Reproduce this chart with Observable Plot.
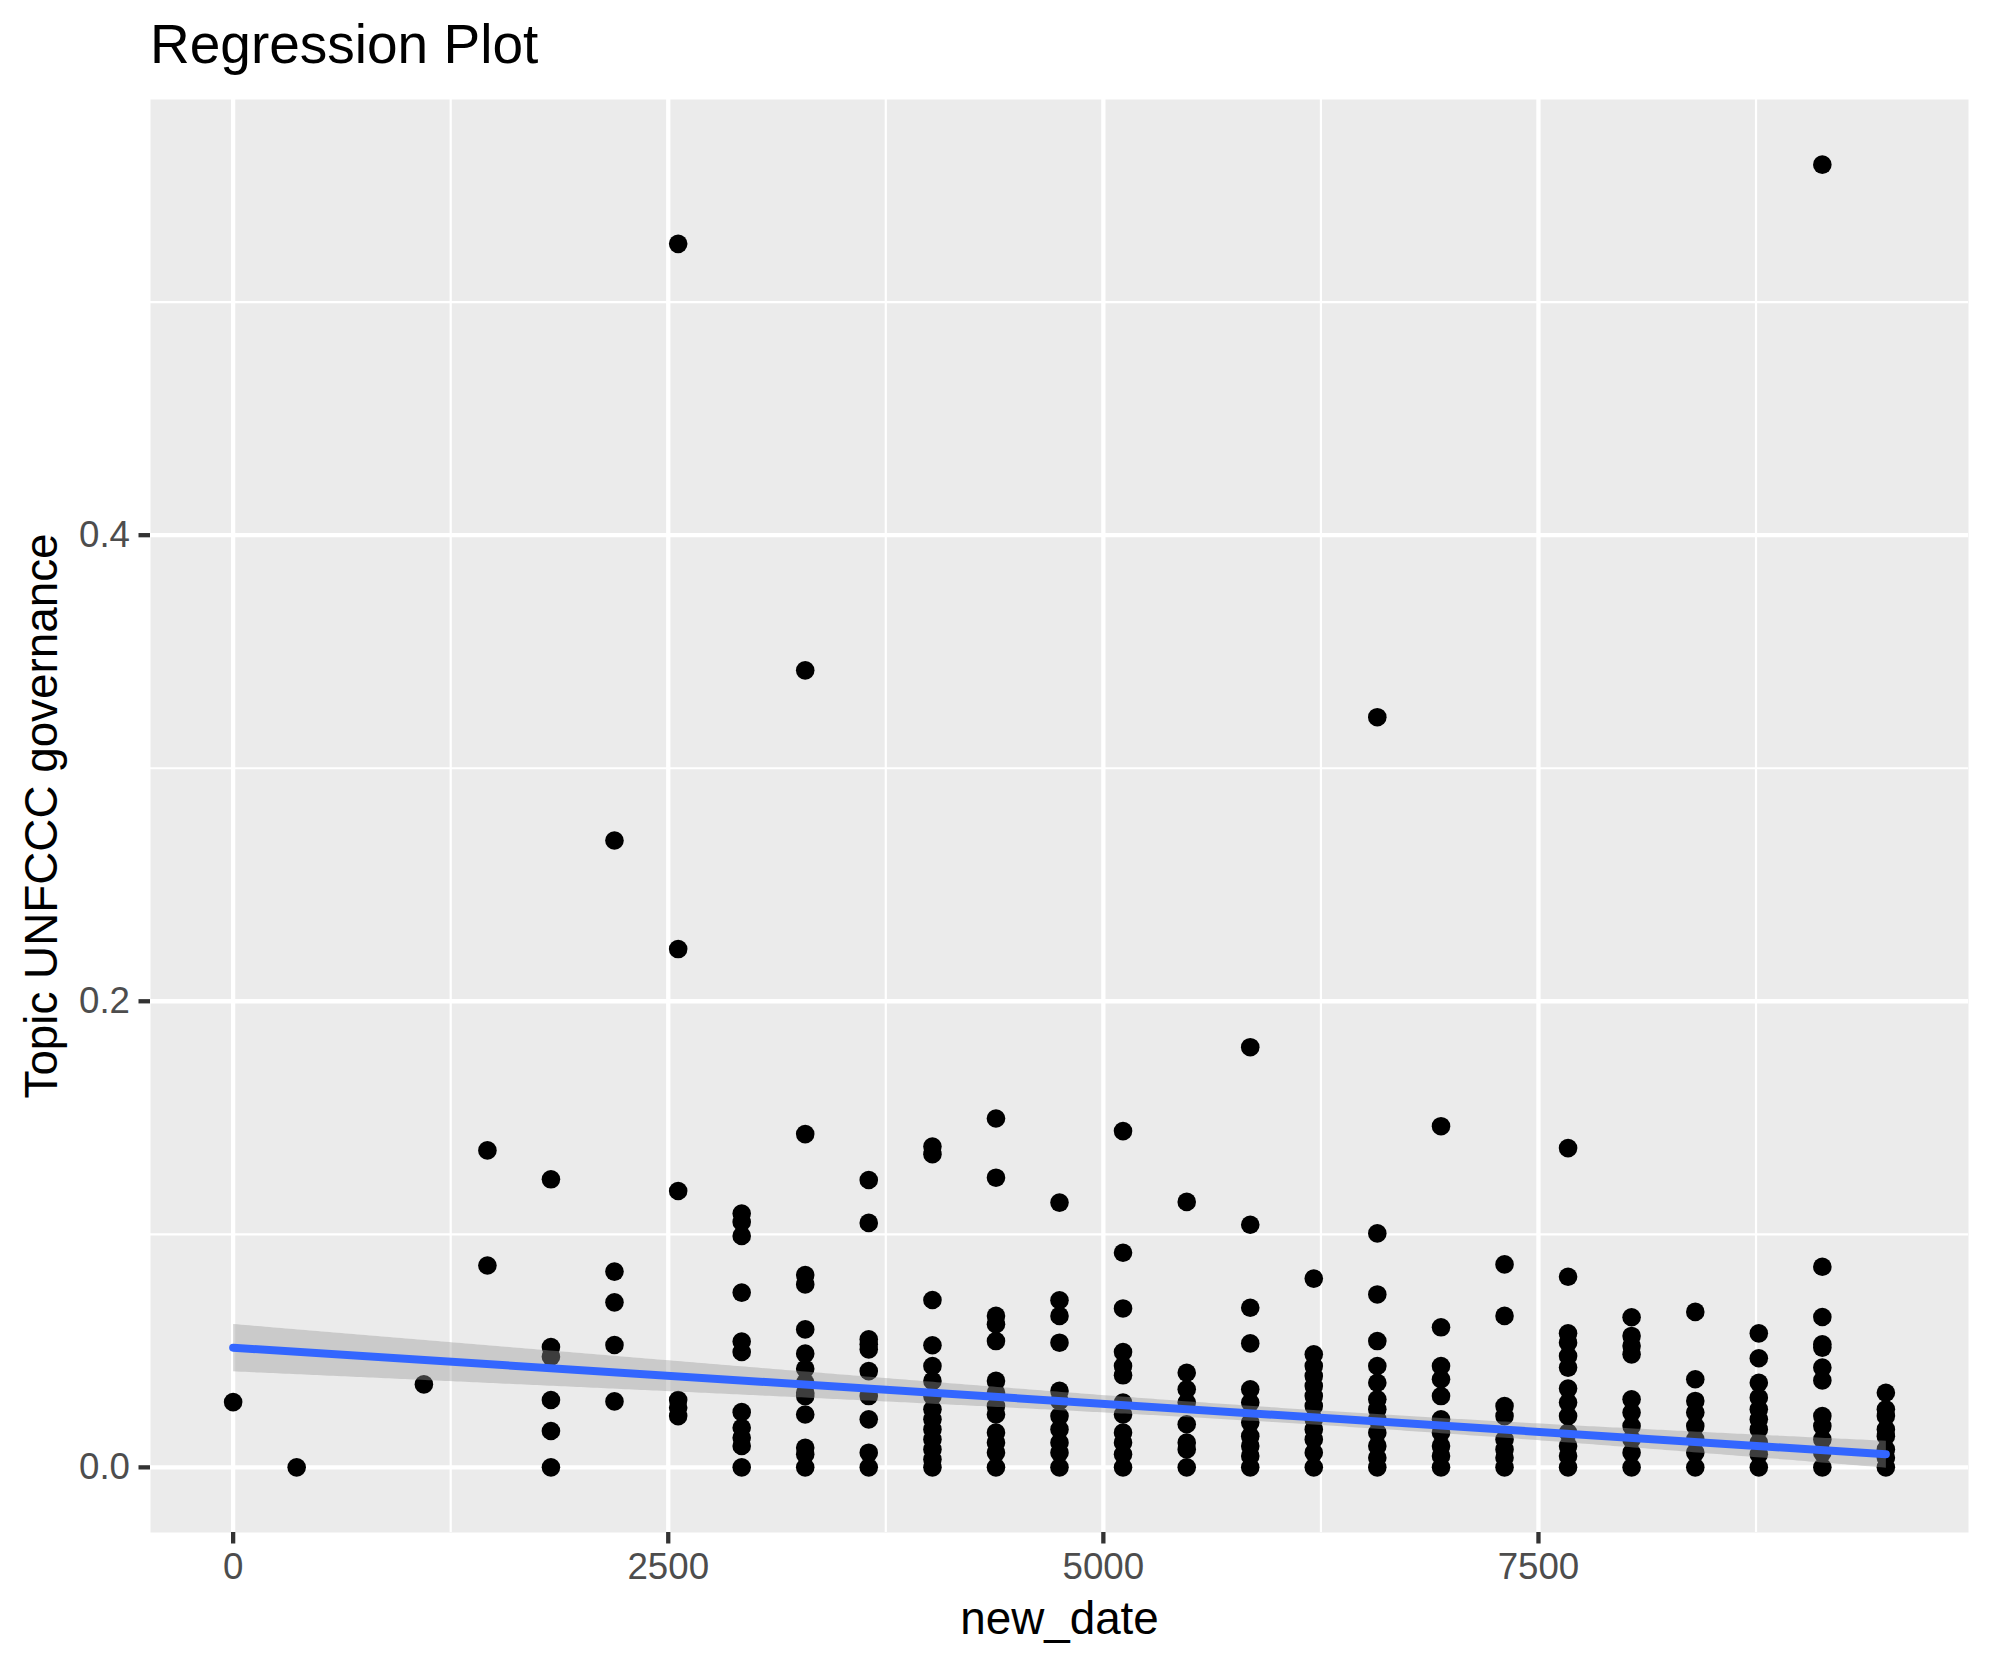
<!DOCTYPE html>
<html><head><meta charset="utf-8">
<script src="https://cdn.jsdelivr.net/npm/d3@7"></script>
<script src="https://cdn.jsdelivr.net/npm/@observablehq/plot@0.6"></script>
<style>
body{margin:0;background:#fff;font-family:"Liberation Sans",Arial,Helvetica,sans-serif;}
#title{height:99px;box-sizing:border-box;padding-left:150px;padding-top:17px;font-size:55px;line-height:1;color:#000;white-space:nowrap;}
#chart svg{display:block;}
</style></head><body>
<div id="title"></div>
<div id="chart"></div>
<script>
const titleText = "Regression Plot";
const xLabel = "new_date";
const yLabel = "Topic UNFCCC governance";

// x position (days) of each column of observations
const columnDays = [0, 365, 1096, 1461, 1826, 2191, 2557, 2922, 3287, 3652, 4018, 4383, 4748,
  5113, 5479, 5844, 6209, 6574, 6940, 7305, 7670, 8035, 8401, 8766, 9131, 9496];

// distinct y values seen in each column
const columnValues = [
  [0.028],
  [0],
  [0.0356],
  [0.136, 0.0866],
  [0.1236, 0.0516, 0.0475, 0.0289, 0.0156, 0],
  [0.269, 0.084, 0.0708, 0.0525, 0.0283],
  [0.525, 0.2224, 0.1186, 0.0289, 0.0256, 0.022],
  [0.1089, 0.1053, 0.0993, 0.075, 0.054, 0.0495, 0.0237, 0.017, 0.0127, 0.0092, 0],
  [0.342, 0.143, 0.0825, 0.0785, 0.0592, 0.0488, 0.0423, 0.0363, 0.032, 0.0306, 0.0227, 0.0084, 0.0056, 0],
  [0.1233, 0.1049, 0.0549, 0.0528, 0.0506, 0.0413, 0.0306, 0.0206, 0.0063, 0],
  [0.1377, 0.1344, 0.0718, 0.0524, 0.0435, 0.0371, 0.0306, 0.0249, 0.0206, 0.0163, 0.012, 0.0077, 0.0034, 0],
  [0.1497, 0.1243, 0.065, 0.0614, 0.0542, 0.0371, 0.032, 0.0263, 0.0227, 0.0149, 0.0106, 0.0063, 0],
  [0.1136, 0.0717, 0.065, 0.0535, 0.0328, 0.0285, 0.022, 0.0163, 0.0106, 0.0063, 0],
  [0.1443, 0.0921, 0.0682, 0.0495, 0.0435, 0.0395, 0.0278, 0.0227, 0.0149, 0.0106, 0.0056, 0],
  [0.1139, 0.0406, 0.0335, 0.0278, 0.0185, 0.0106, 0.0077, 0],
  [0.1803, 0.1041, 0.0685, 0.0532, 0.0335, 0.0278, 0.0192, 0.0134, 0.0092, 0.0049, 0],
  [0.081, 0.0485, 0.0435, 0.0392, 0.0349, 0.0306, 0.0263, 0.0206, 0.0163, 0.012, 0.0063, 0],
  [0.3219, 0.1004, 0.0742, 0.0542, 0.0435, 0.0363, 0.0292, 0.0249, 0.0206, 0.0149, 0.0092, 0.0041, 0],
  [0.1464, 0.0601, 0.0435, 0.0378, 0.0306, 0.0206, 0.0149, 0.0092, 0.0049, 0],
  [0.0871, 0.065, 0.0263, 0.022, 0.012, 0.0077, 0.0041, 0],
  [0.137, 0.0818, 0.0575, 0.0535, 0.0478, 0.0428, 0.0338, 0.0278, 0.022, 0.0149, 0.0092, 0.0049, 0],
  [0.0644, 0.0564, 0.0521, 0.0485, 0.0292, 0.0235, 0.0177, 0.012, 0.0063, 0],
  [0.0667, 0.0378, 0.0285, 0.0235, 0.0177, 0.012, 0.0063, 0],
  [0.0575, 0.0468, 0.0363, 0.0299, 0.0249, 0.0206, 0.0163, 0.0106, 0.0056, 0],
  [0.559, 0.0861, 0.0645, 0.0528, 0.0514, 0.0428, 0.0373, 0.022, 0.0177, 0.012, 0.0063, 0],
  [0.032, 0.0249, 0.022, 0.0163, 0.0134, 0.0077, 0.0041, 0]
];

// estimated number of coincident (overplotted) observations at each value above
const stackCounts = [
  [1],
  [1],
  [1],
  [1, 1],
  [1, 1, 1, 1, 1, 1],
  [1, 1, 1, 1, 1],
  [1, 1, 1, 1, 1, 1],
  [1, 1, 1, 1, 1, 1, 4, 3, 3, 3, 2],
  [1, 1, 1, 1, 1, 1, 1, 1, 1, 3, 3, 3, 3, 3],
  [1, 1, 1, 1, 1, 1, 3, 4, 3, 4],
  [1, 1, 1, 1, 1, 1, 3, 4, 4, 4, 4, 4, 4, 6],
  [1, 1, 1, 1, 1, 1, 2, 3, 4, 5, 5, 5, 8],
  [1, 1, 1, 1, 2, 3, 4, 5, 5, 5, 8],
  [1, 1, 1, 1, 1, 1, 4, 4, 5, 5, 5, 8],
  [1, 1, 1, 3, 6, 6, 6, 9],
  [1, 1, 1, 1, 1, 3, 5, 5, 5, 5, 8],
  [1, 1, 1, 1, 1, 2, 2, 3, 5, 6, 7, 12],
  [1, 1, 1, 1, 1, 1, 2, 2, 3, 6, 6, 7, 11],
  [1, 1, 1, 1, 2, 4, 5, 6, 7, 12],
  [1, 1, 1, 4, 5, 6, 6, 9],
  [1, 1, 1, 1, 1, 1, 1, 1, 3, 5, 7, 7, 13],
  [1, 1, 1, 1, 1, 2, 4, 6, 8, 15],
  [1, 1, 1, 2, 3, 5, 9, 16],
  [1, 1, 1, 1, 1, 2, 3, 5, 8, 17],
  [1, 1, 1, 1, 1, 1, 1, 2, 2, 4, 8, 19],
  [1, 1, 1, 1, 3, 6, 7, 18]
];

const xTicks = [0, 2500, 5000, 7500];
const xTickLabels = ["0", "2500", "5000", "7500"];
const xMinor = [1250, 3750, 6250, 8750];
const yTicks = [0, 0.2, 0.4];
const yTickLabels = ["0.0", "0.2", "0.4"];
const yMinor = [0.1, 0.3, 0.5];

document.getElementById("title").textContent = titleText;

const points = columnDays.flatMap((d, i) => columnValues[i].map((v, j) => ({new_date: d, value: v, count: stackCounts[i][j]})));
const observations = points.flatMap(p => Array.from({length: p.count}, () => ({new_date: p.new_date, value: p.value})));

// ggplot-style 5% expansion of the data range
const xExt = d3.extent(points, d => d.new_date);
const yExt = d3.extent(points, d => d.value);
const xPad = (xExt[1] - xExt[0]) * 0.05;
const yPad = (yExt[1] - yExt[0]) * 0.05;

const font = "Liberation Sans, Arial, Helvetica, sans-serif";

const plot = Plot.plot({
  width: 1990,
  height: 1566,
  marginTop: 0,
  marginBottom: 133,
  marginLeft: 150,
  marginRight: 22,
  style: {fontFamily: font, background: "#ffffff", overflow: "visible"},
  x: {domain: [xExt[0] - xPad, xExt[1] + xPad], axis: null},
  y: {domain: [yExt[0] - yPad, yExt[1] + yPad], axis: null},
  marks: [
    Plot.frame({fill: "#EBEBEB", stroke: null}),
    Plot.gridX(xMinor, {stroke: "#ffffff", strokeOpacity: 1, strokeWidth: 2.2}),
    Plot.gridY(yMinor, {stroke: "#ffffff", strokeOpacity: 1, strokeWidth: 2.2}),
    Plot.gridX(xTicks, {stroke: "#ffffff", strokeOpacity: 1, strokeWidth: 4.3}),
    Plot.gridY(yTicks, {stroke: "#ffffff", strokeOpacity: 1, strokeWidth: 4.3}),
    Plot.dot(points, {x: "new_date", y: "value", r: 9.3, fill: "#000000", stroke: null}),
    Plot.linearRegressionY(observations, {x: "new_date", y: "value", stroke: "#3366FF", strokeWidth: 8,
      fill: "#999999", fillOpacity: 0.4, ci: 0.95}),
    Plot.axisX(xTicks, {tickSize: 11.5, tickPadding: 9, stroke: "#333333", strokeWidth: 4.3,
      fill: "#4D4D4D", fontSize: 36.7, tickFormat: d => xTickLabels[xTicks.indexOf(d)], label: null}),
    Plot.axisY(yTicks, {tickSize: 11.5, tickPadding: 9, stroke: "#333333", strokeWidth: 4.3,
      fill: "#4D4D4D", fontSize: 36.7, tickFormat: d => yTickLabels[yTicks.indexOf(d)], label: null}),
    Plot.text([xLabel], {text: d => d, frameAnchor: "bottom", dy: 69, lineAnchor: "top",
      textAnchor: "middle", fontSize: 45.8, fill: "#000000"}),
    Plot.text([yLabel], {text: d => d, frameAnchor: "left", dx: -107.7, rotate: -90,
      textAnchor: "middle", lineAnchor: "middle", fontSize: 45.8, fill: "#000000"})
  ]
});
document.getElementById("chart").appendChild(plot);
</script>
</body></html>
